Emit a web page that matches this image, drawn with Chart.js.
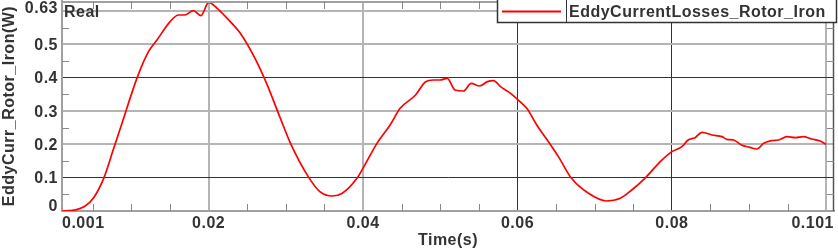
<!DOCTYPE html>
<html>
<head>
<meta charset="utf-8">
<script src="https://cdn.jsdelivr.net/npm/chart.js@4.4.1/dist/chart.umd.min.js"></script>
<style>
    html, body { margin: 0; padding: 0; background: #fff; }
    #wrap { width: 838px; height: 250px; }
</style>
</head>
<body>
<div id="wrap"><canvas id="grafico"></canvas></div>
<script>
// tempo (s) e perdas (W)
const tempos = [0.001, 0.0024, 0.004, 0.0051, 0.0064, 0.0077, 0.0087, 0.0107, 0.0122, 0.0133,
    0.015, 0.0161, 0.0169, 0.018, 0.019, 0.02, 0.0211, 0.0228, 0.0241, 0.026,
    0.0275, 0.0292, 0.0306, 0.0329, 0.0344, 0.036, 0.0373, 0.0392, 0.0401, 0.0418,
    0.0435, 0.0448, 0.0468, 0.0481, 0.0491, 0.05, 0.0509, 0.0519, 0.053, 0.054,
    0.0551, 0.0561, 0.0569, 0.0578, 0.0591, 0.06, 0.0612, 0.0625, 0.0643, 0.0653,
    0.067, 0.0692, 0.0715, 0.0733, 0.0748, 0.0765, 0.0785, 0.08, 0.0813, 0.0821,
    0.083, 0.0839, 0.0852, 0.0865, 0.0871, 0.088, 0.089, 0.0901, 0.091, 0.0919,
    0.0929, 0.0938, 0.0949, 0.096, 0.097, 0.0981, 0.0992, 0.1];
const perdas = [0, 0.002, 0.015, 0.04, 0.098, 0.188, 0.258, 0.398, 0.478, 0.513,
    0.568, 0.588, 0.588, 0.601, 0.586, 0.626, 0.608, 0.568, 0.533, 0.458,
    0.383, 0.283, 0.203, 0.103, 0.058, 0.045, 0.053, 0.098, 0.133, 0.203,
    0.258, 0.308, 0.348, 0.388, 0.393, 0.393, 0.398, 0.363, 0.36, 0.383,
    0.375, 0.388, 0.391, 0.373, 0.353, 0.335, 0.308, 0.258, 0.198, 0.163,
    0.098, 0.053, 0.03, 0.038, 0.063, 0.098, 0.148, 0.178, 0.193, 0.213,
    0.22, 0.236, 0.228, 0.223, 0.215, 0.213, 0.198, 0.191, 0.186, 0.203,
    0.211, 0.213, 0.223, 0.22, 0.223, 0.216, 0.21, 0.2];

const xTicks = [0.001, 0.02, 0.04, 0.06, 0.08, 0.1, 0.101];
const xRotulos = ["0.001", "0.02", "0.04", "0.06", "0.08", "", "0.101"];
const yTicks = [0, 0.1, 0.2, 0.3, 0.4, 0.5, 0.6, 0.63];
const yRotulos = ["0", "0.1", "0.2", "0.3", "0.4", "0.5", "", "0.63"];
const xMenores = [0.005, 0.01, 0.015, 0.025, 0.03, 0.035, 0.045, 0.05, 0.055, 0.065, 0.07, 0.075, 0.085, 0.09, 0.095];
const yMenores = [0.05, 0.15, 0.25, 0.35, 0.45, 0.55];

const nomeSerie = "EddyCurrentLosses_Rotor_Iron";
const FONTE = "'Liberation Sans', Arial, sans-serif";

// linhas que aparecem nitidas (escuras) no original
const escurasX = [0.06, 0.08];
const escurasY = [0.1, 0.4];

function corGrade(valor, escuras, bordas) {
    if (bordas.includes(valor)) return "rgba(0,0,0,0)";
    return escuras.includes(valor) ? "#333" : "#b4b4b4";
}

const pluginMoldura = {
    id: "moldura",
    beforeLayout(chart) { chart.ctx.letterSpacing = "0.5px"; },
    beforeDraw(chart) { chart.ctx.letterSpacing = "0.5px"; },
    afterDraw(chart) {
        const ctx = chart.ctx;
        const a = chart.chartArea;
        const sx = chart.scales.x;
        const sy = chart.scales.y;
        ctx.save();
        ctx.letterSpacing = "0.5px";

        // bordas superior e direita
        ctx.strokeStyle = "#a0a0a0";
        ctx.lineWidth = 2;
        ctx.beginPath();
        ctx.moveTo(a.left, a.top + 1);
        ctx.lineTo(a.right, a.top + 1);
        ctx.stroke();
        ctx.strokeStyle = "#555";
        ctx.lineWidth = 1.5;
        ctx.beginPath();
        ctx.moveTo(a.right - 0.5, a.top);
        ctx.lineTo(a.right - 0.5, a.bottom);
        ctx.stroke();

        // marcas menores
        ctx.strokeStyle = "#888";
        ctx.lineWidth = 1;
        ctx.beginPath();
        xMenores.forEach(v => {
            const px = Math.round(sx.getPixelForValue(v)) + 0.5;
            ctx.moveTo(px, a.bottom);
            ctx.lineTo(px, a.bottom - 7);
            ctx.moveTo(px, a.top);
            ctx.lineTo(px, a.top + 8);
        });
        yMenores.forEach(v => {
            const py = Math.round(sy.getPixelForValue(v)) + 0.5;
            ctx.moveTo(a.left, py);
            ctx.lineTo(a.left + 7, py);
            ctx.moveTo(a.right, py);
            ctx.lineTo(a.right - 7, py);
        });
        ctx.stroke();

        // rotulos do eixo y
        ctx.font = "bold 16px " + FONTE;
        ctx.fillStyle = "#333";
        ctx.textAlign = "right";
        ctx.textBaseline = "alphabetic";
        yTicks.forEach((v, i) => {
            if (!yRotulos[i]) return;
            let py = sy.getPixelForValue(v) + 5.5;
            if (i === 0) py = a.bottom;
            if (i === yTicks.length - 1) py = a.top + 12;
            ctx.fillText(yRotulos[i], a.left - 4, py);
        });

        // texto "Real"
        ctx.textAlign = "left";
        ctx.fillText("Real", a.left + 2, a.top + 16);

        // legenda
        const lx = 497.5, ly = -1, lw = 339, lh = 23.5;
        ctx.fillStyle = "#fff";
        ctx.fillRect(lx, ly, lw, lh);
        ctx.strokeStyle = "#333";
        ctx.lineWidth = 1.5;
        ctx.strokeRect(lx, ly, lw, lh);
        ctx.strokeStyle = "#ff0000";
        ctx.lineWidth = 2;
        ctx.beginPath();
        ctx.moveTo(502, 11.5);
        ctx.lineTo(561, 11.5);
        ctx.stroke();
        ctx.strokeStyle = "#333";
        ctx.lineWidth = 1;
        ctx.beginPath();
        ctx.moveTo(566.5, 0);
        ctx.lineTo(566.5, 22);
        ctx.stroke();
        ctx.fillStyle = "#333";
        ctx.fillText(nomeSerie, 569, 17);
        ctx.restore();
    }
};

const pontos = tempos.map((t, i) => ({ x: t, y: perdas[i] }));

new Chart(document.getElementById("grafico"), {
    type: "line",
    data: {
        datasets: [{
            label: nomeSerie,
            data: pontos,
            borderColor: "#ff0000",
            borderWidth: 1.7,
            pointRadius: 0,
            cubicInterpolationMode: "monotone",
            fill: false
        }]
    },
    options: {
        responsive: true,
        maintainAspectRatio: false,
        animation: false,
        layout: { padding: { top: 1, right: 4, left: 0, bottom: 0 } },
        plugins: {
            legend: { display: false },
            tooltip: { enabled: false }
        },
        scales: {
            x: {
                type: "linear",
                min: 0.001,
                max: 0.101,
                afterBuildTicks: s => { s.ticks = xTicks.map(v => ({ value: v })); },
                afterFit: s => { s.height = 39; },
                ticks: {
                    autoSkip: false,
                    maxRotation: 0,
                    align: "inner",
                    padding: 3,
                    color: "#333",
                    font: { family: FONTE, size: 16, weight: "bold" },
                    callback: (v, i) => xRotulos[i]
                },
                grid: {
                    drawTicks: false,
                    color: c => corGrade(c.tick ? c.tick.value : null, escurasX, [0.001, 0.101]),
                    lineWidth: c => (c.tick && escurasX.includes(c.tick.value)) ? 1 : 2
                },
                border: { color: "#a0a0a0", width: 2 },
                title: {
                    display: true,
                    text: "Time(s)",
                    color: "#333",
                    font: { family: FONTE, size: 16, weight: "bold" },
                    padding: { top: 0, bottom: 0 }
                }
            },
            y: {
                type: "linear",
                min: 0,
                max: 0.63,
                afterBuildTicks: s => { s.ticks = yTicks.map(v => ({ value: v })); },
                afterFit: s => { s.width = 62; },
                ticks: { display: false },
                grid: {
                    drawTicks: false,
                    color: c => corGrade(c.tick ? c.tick.value : null, escurasY, [0, 0.63]),
                    lineWidth: c => (c.tick && escurasY.includes(c.tick.value)) ? 1 : 2
                },
                border: { color: "#a0a0a0", width: 2 },
                title: {
                    display: true,
                    text: "EddyCurr_Rotor_Iron(W)",
                    color: "#333",
                    font: { family: FONTE, size: 16, weight: "bold" },
                    padding: { top: 0, bottom: 0 }
                }
            }
        }
    },
    plugins: [pluginMoldura]
});
</script>
</body>
</html>
